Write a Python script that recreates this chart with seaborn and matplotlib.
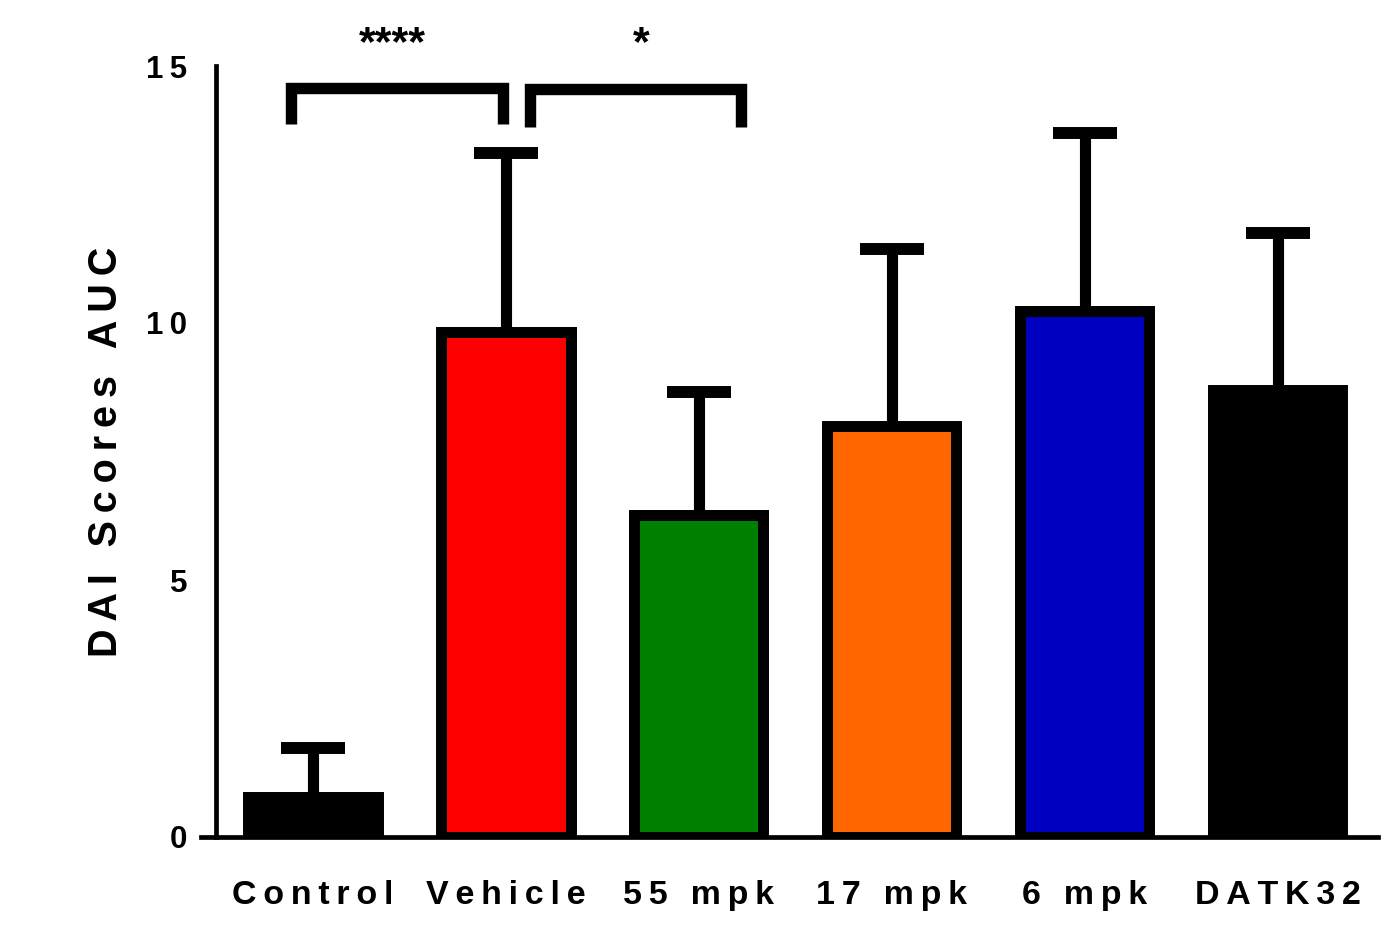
import matplotlib
matplotlib.use("Agg")
import matplotlib.pyplot as plt
import seaborn as sns
import pandas as pd
import numpy as np

# ---- data ----
groups = ["Control", "Vehicle", "55 mpk", "17 mpk", "6 mpk", "DATK32"]
means = [0.77, 9.83, 6.27, 7.99, 10.24, 8.69]
sem = [0.97, 3.48, 2.39, 3.45, 3.46, 3.06]
bar_colors = ["#000000", "#FF0000", "#008000", "#FF6600", "#0000C0", "#000000"]
y_ticks = [0, 5, 10, 15]
y_label = "DAI Scores AUC"
sig_text = ["****", "*"]

SP = "\u2009"
def spaced(s):
    return SP.join(list(s))

sns.set_theme(style="white")
plt.rcParams["font.family"] = ["Liberation Sans", "DejaVu Sans"]
plt.rcParams["font.weight"] = "bold"
for k in ["text.color", "axes.labelcolor", "xtick.color", "ytick.color", "axes.edgecolor"]:
    plt.rcParams[k] = "black"

fig = plt.figure(figsize=(13.85, 9.34), dpi=100)
ax = fig.add_axes([201/1385, (934-837)/934, 1177/1385, 771/934])

df = pd.DataFrame({"group": groups, "value": means})
sns.barplot(data=df, x="group", y="value", hue="group", palette=bar_colors,
            order=groups, hue_order=groups, width=0.67, edgecolor="black",
            linewidth=7.9, errorbar=None, legend=False, saturation=1, ax=ax)
for p in ax.patches:
    p.set_zorder(3)

xpos = np.arange(len(groups))
eb = ax.errorbar(xpos, means, yerr=[np.zeros(len(sem)), sem], fmt="none",
                 ecolor="black", elinewidth=8.0, capsize=23, capthick=8.6, zorder=2)
for cl in eb[1]:
    yd = np.asarray(cl.get_ydata(), dtype=float)
    if np.allclose(yd, means):
        cl.set_visible(False)

for s in ["top", "right"]:
    ax.spines[s].set_visible(False)
ax.spines["left"].set_position(("data", -0.5))

ax.set_xlim(-0.58, 5.52)
ax.set_ylim(0, 15)
ax.set_yticks(y_ticks)
ax.set_yticklabels([spaced(str(t)) for t in y_ticks], fontsize=22.5, fontweight="bold")
ax.set_xticks(xpos)
ax.set_xticklabels([spaced(g) for g in groups], fontsize=24.5, fontweight="bold")
ax.set_xlabel("")
ax.set_ylabel(spaced(y_label), fontsize=28.5, fontweight="bold", labelpad=15)

ax.spines["left"].set_linewidth(3.4)
ax.spines["bottom"].set_linewidth(3.4)
ax.tick_params(axis="both", direction="out", length=11, width=3.4, color="black")
ax.tick_params(axis="x", pad=20)
ax.tick_params(axis="y", pad=10)

# significance brackets
bracket_x = [(-0.114, 0.984), (1.124, 2.22)]
bracket_top = [14.58, 14.55]
bracket_bot = [13.87, 13.82]
star_x = [0.41, 1.70]
for (x0, x1), yt, yb, tx, st in zip(bracket_x, bracket_top, bracket_bot, star_x, sig_text):
    ax.plot([x0, x0, x1, x1], [yb, yt, yt, yb], color="black", lw=8.2,
            solid_capstyle="butt", solid_joinstyle="miter", clip_on=False, zorder=4)
    ax.text(tx, 15.42, st, ha="center", va="center", fontsize=31,
            fontweight="bold", clip_on=False)

fig.savefig("out.png", dpi=100)
